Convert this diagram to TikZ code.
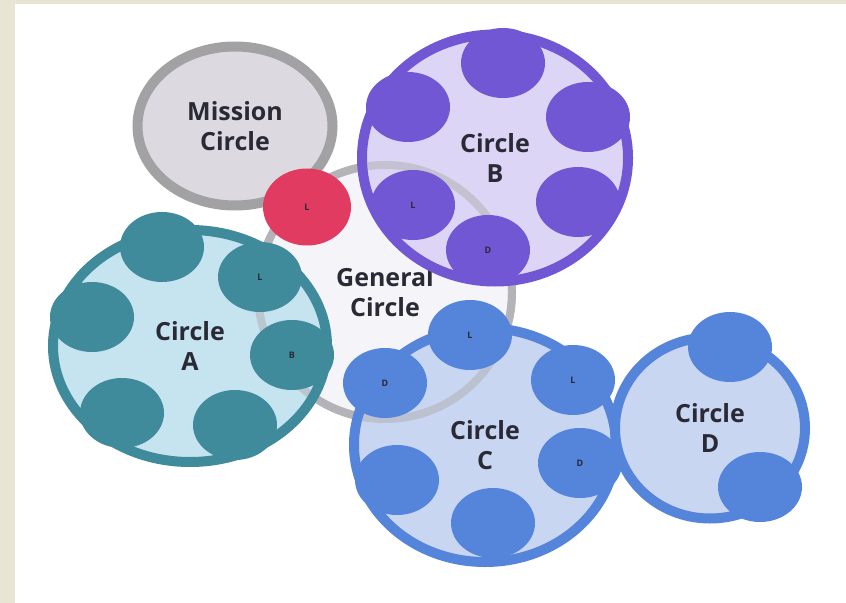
\documentclass[tikz,border=0pt]{standalone}
\usepackage{fontspec}
\setmainfont{Open Sans}
\usetikzlibrary{shapes.geometric}
\definecolor{paper}{HTML}{E9E5D5}
\definecolor{missionfill}{HTML}{DCDAE0}
\definecolor{missionline}{HTML}{A2A2A5}
\definecolor{generalfill}{HTML}{F5F4F8}
\definecolor{generalline}{HTML}{B4B4B8}
\definecolor{leadred}{HTML}{E23B62}
\definecolor{tealline}{HTML}{3F8A9B}
\definecolor{tealfill}{HTML}{C6E4EF}
\definecolor{purpleline}{HTML}{7257D4}
\definecolor{purplefill}{HTML}{DCD5F5}
\definecolor{blueline}{HTML}{5585DA}
\definecolor{bluefill}{HTML}{C8D6F2}
\definecolor{ink}{HTML}{2A2A36}
\tikzset{
	title/.style={text=ink, align=center, font=\bfseries\fontsize{25bp}{30bp}\selectfont},
	ring/.style={ellipse, draw=#1, line width=10bp, inner sep=0pt, title},
	seat/.style={ellipse, fill=#1, inner sep=0pt, minimum width=84bp, minimum height=70bp,
			text=ink, font=\bfseries\fontsize{9bp}{10bp}\selectfont}
}
\begin{document}
\begin{tikzpicture}[x=1bp,y=-1bp]
	\useasboundingbox (0,0) rectangle (846,603);
	\fill[paper] (0,0) rectangle (846,603);
	\fill[white] (15,4) rectangle (846,603);

	% Draw the general circle
	\node[circle, draw=generalline, fill=generalfill, line width=8bp, minimum size=254bp, inner sep=0pt, title] (G) at (385,292) {General\\Circle};

	% Draw the mission circle
	\node[ellipse, draw=missionline, fill=missionfill, line width=10bp, minimum width=195bp, minimum height=159bp, inner sep=0pt, title] (M) at (235,126) {Mission\\Circle};

	% Fill the circles A, B and C
	\fill[tealfill] (190,346) ellipse [x radius=137bp, y radius=116bp];
	\fill[purplefill] (495,158) ellipse [x radius=133bp, y radius=123bp];
	\fill[bluefill] (484,445) ellipse [x radius=131bp, y radius=117bp];

	% General circle seen through them
	\draw[generalline, line width=8bp, draw opacity=.6] (G.center) circle [radius=127bp];

	% Circle A
	\node[ring=tealline, minimum width=274bp, minimum height=232bp] (A) at (190,346) {Circle\\A};
	\foreach \nm/\px/\py/\lab in {a1/162/247/{}, aL/260/277/L, a3/92/317/{}, aB/292/355/B, a5/122/413/{}, a6/235/425/{}}
		\node[seat=tealline] (\nm) at (\px,\py) {\lab};

	% Circle B
	\node[ring=purpleline, minimum width=266bp, minimum height=247bp] (B) at (495,158) {Circle\\B};
	\foreach \nm/\px/\py/\lab in {b1/503/63/{}, b2/408/107/{}, b3/588/117/{}, b4/578/202/{}, bL/413/205/L, bD/488/250/D}
		\node[seat=purpleline] (\nm) at (\px,\py) {\lab};

	% Circle C
	\node[ring=blueline, minimum width=262bp, minimum height=234bp] (C) at (485,445) {Circle\\C};
	\foreach \nm/\px/\py/\lab in {cL/470/335/L, cD/385/383/D, cL2/573/380/L, cD2/580/463/D, c5/397/480/{}, c6/493/523/{}}
		\node[seat=blueline] (\nm) at (\px,\py) {\lab};

	% Circle D
	\node[ring=blueline, fill=bluefill, minimum width=190bp, minimum height=181bp] (D) at (710,428) {Circle\\D};
	\foreach \nm/\px/\py in {d1/730/347, d2/760/487}
		\node[seat=blueline] (\nm) at (\px,\py) {};

	% Lead between mission and general circle
	\node[seat=leadred, minimum width=88bp, minimum height=77bp] (R) at (307,207) {L};
\end{tikzpicture}
\end{document}
